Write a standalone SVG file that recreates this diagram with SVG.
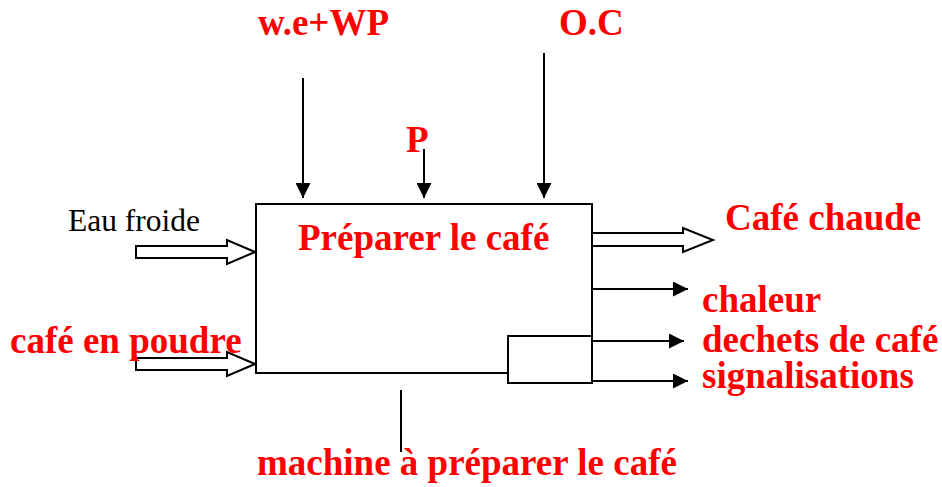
<svg xmlns="http://www.w3.org/2000/svg" width="942" height="487" viewBox="0 0 942 487">
<style>
.lbl{font-family:"Liberation Serif","Times New Roman",serif;font-weight:bold;fill:#FF0000;font-size:37px}
.blk{font-family:"Liberation Serif","Times New Roman",serif;fill:#000;font-size:31.5px}
.ln{stroke:#000;stroke-width:2;fill:none}
.hol{stroke:#000;stroke-width:2;fill:#fff;stroke-linejoin:miter}
</style>
<defs>
<marker id="ah" viewBox="0 0 10 10" refX="10" refY="5" markerWidth="15" markerHeight="15" markerUnits="userSpaceOnUse" orient="auto">
<path d="M0,0 L10,5 L0,10 z" fill="#000"/>
</marker>
</defs>
<rect width="942" height="487" fill="#fff"/>
<g id="main">
<path class="ln" d="M508,373 H256 V204 H592 V336"/>
<text class="lbl" x="298" y="250">Préparer le café</text>
</g>
<g id="subbox">
<rect class="ln" x="508" y="336" width="84" height="47"/>
</g>
<g id="connectors">
<line class="ln" x1="303" y1="78" x2="303" y2="198" marker-end="url(#ah)"/>
<line class="ln" x1="424" y1="149" x2="424" y2="198" marker-end="url(#ah)"/>
<line class="ln" x1="544" y1="53" x2="544" y2="198" marker-end="url(#ah)"/>
<polygon class="hol" points="136,246 227,246 227,240 255,252 227,264 227,258 136,258"/>
<polygon class="hol" points="136,358 227,358 227,352 255,364 227,376 227,370 136,370"/>
<polygon class="hol" points="592,233 683,233 683,228 713,240 683,252 683,246 592,246"/>
<line class="ln" x1="592" y1="289" x2="688" y2="289" marker-end="url(#ah)"/>
<line class="ln" x1="592" y1="341" x2="684" y2="341" marker-end="url(#ah)"/>
<line class="ln" x1="592" y1="381" x2="688" y2="381" marker-end="url(#ah)"/>
<line class="ln" x1="401" y1="390" x2="401" y2="452"/>
</g>
<g id="labels">
<text class="lbl" x="258" y="35">w.e+WP</text>
<text class="lbl" x="559" y="35">O.C</text>
<text class="lbl" x="406" y="152">P</text>
<text class="blk" x="68" y="231">Eau froide</text>
<text class="lbl" x="10" y="353">café en poudre</text>
<text class="lbl" x="725" y="230">Café chaude</text>
<text class="lbl" x="702" y="312">chaleur</text>
<text class="lbl" x="702" y="352">dechets de café</text>
<text class="lbl" x="702" y="388">signalisations</text>
<text class="lbl" x="257" y="475">machine à préparer le café</text>
</g>
</svg>
